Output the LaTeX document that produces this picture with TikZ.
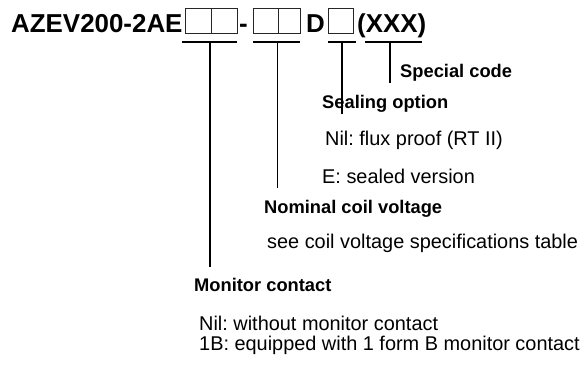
\documentclass[tikz,border=0pt]{standalone}
\usepackage{fontspec}
\setmainfont{Liberation Sans}
\frenchspacing
\begin{document}
\begin{tikzpicture}[x=1pt,y=-1pt,
  ttl/.style={anchor=base west,inner sep=0pt,font=\frenchspacing\fontsize{25.9}{30}\selectfont\bfseries},
  lbl/.style={anchor=base west,inner sep=0pt,font=\frenchspacing\fontsize{18.3}{22}\selectfont\bfseries},
  txt/.style={anchor=base west,inner sep=0pt,font=\frenchspacing\fontsize{19.9}{24}\selectfont},
  cell/.style={draw=black!85,line width=1pt},
  uline/.style={line width=2pt},
  vline/.style={line width=1.8pt}]
\useasboundingbox (0,0) rectangle (584,365);
% title
\node[ttl] (t1) at (11,32) {AZEV200-2AE};
\draw[cell] (185,8.5) rectangle (211,33);
\draw[cell] (211,8.5) rectangle (237,33);
\node[ttl] (dash) at (239,32) {-};
\draw[cell] (253,8.5) rectangle (278,33);
\draw[cell] (278,8.5) rectangle (300,33);
\node[ttl] (dd) at (306,32) {D};
\draw[cell] (328,8.5) rectangle (353,33);
\node[ttl] (xx) at (357,32) {(XXX)};
% underlines
\draw[uline] (182,42) -- (237,42);
\draw[uline] (253,42) -- (300,42);
\draw[uline] (328,42) -- (356,42);
\draw[uline] (365,42) -- (422,42);
\coordinate (m1) at (210,42);
\coordinate (m2) at (277.5,42);
\coordinate (m3) at (342,42);
\coordinate (m4) at (390,42);
\coordinate (e1) at (210,267);
\coordinate (e2) at (277.5,188);
\coordinate (e3) at (342,114);
\coordinate (e4) at (390,83);
% labels
\node[lbl] (spec) at (400,77) {Special code};
\node[lbl] (seal) at (322,108) {Sealing option};
\node[txt] (seal1) at (325,145) {Nil: flux proof (RT II)};
\node[txt] (seal2) at (322,183.5) {E: sealed version};
\node[lbl] (nom) at (264,213.5) {Nominal coil voltage};
\node[txt] (nom1) at (267,248.5) {see coil voltage specifications table};
\node[lbl] (mon) at (194,291.5) {Monitor contact};
\node[txt] (mon1) at (199,330) {Nil: without monitor contact};
\node[txt] (mon2) at (199,350) {1B: equipped with 1 form B monitor contact};
% connectors
\draw[vline] (m1) -- (e1);
\draw[vline] (m2) -- (e2);
\draw[vline] (m3) -- (e3);
\draw[vline] (m4) -- (e4);
\end{tikzpicture}
\end{document}
